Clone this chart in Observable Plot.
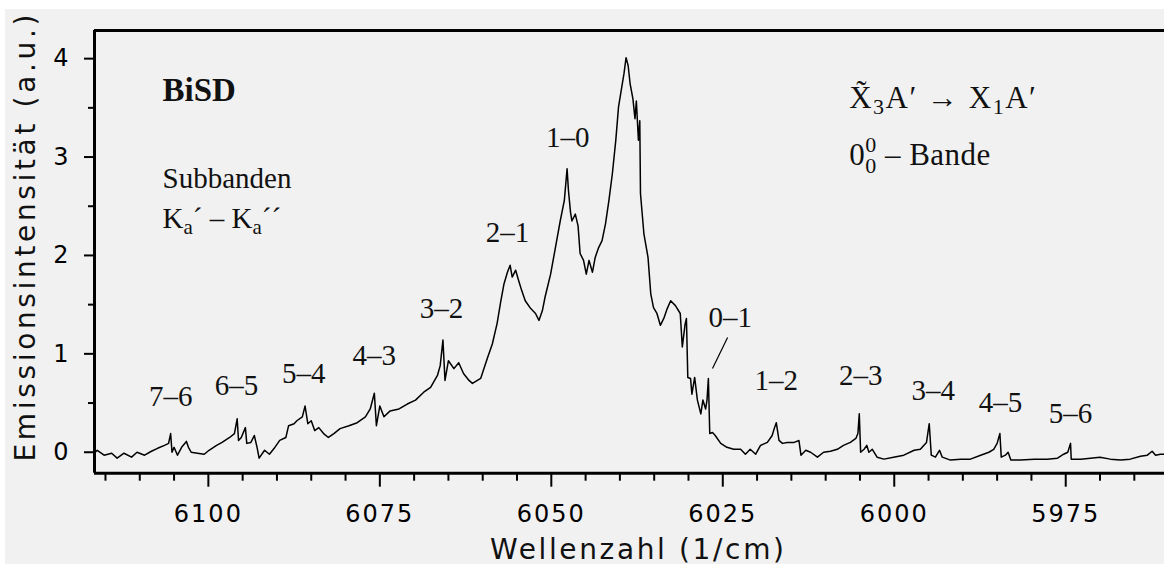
<!DOCTYPE html>
<html><head><meta charset="utf-8">
<script src="https://cdn.jsdelivr.net/npm/d3@7"></script>
<script src="https://cdn.jsdelivr.net/npm/@observablehq/plot@0.6"></script>
<style>
html,body{margin:0;padding:0;background:#fff;}
#chart{position:absolute;left:5px;top:9px;}
#chart svg .ax text{letter-spacing:2px;}
</style></head><body><div id="chart"></div>
<script>
// Spectrum: wavenumber (1/cm) and emission intensity (a.u.)
const wavenumber = [
6116.5,6116.2,6115.2,6114.1,6113.3,6112.3,6111.2,6110.4,6109.3,6108.3,6107.4,6106.4,6105.8,6105.5,6105.3,6105.0,6104.5,6103.9,6103.2,6102.9,
6102.5,6101.6,6100.6,6099.9,6098.8,6098.0,6096.9,6096.2,6095.8,6095.6,6095.2,6094.6,6094.4,6093.8,6093.3,6092.9,6092.6,6091.8,6091.1,6090.4,
6089.6,6088.7,6088.3,6087.5,6087.1,6086.3,6085.9,6085.5,6085.0,6084.5,6083.9,6083.2,6082.5,6081.7,6080.8,6079.5,6078.3,6077.1,6076.4,6075.8,
6075.5,6075.0,6074.4,6073.5,6072.2,6071.0,6069.8,6068.6,6067.6,6066.6,6066.2,6065.8,6065.5,6065.0,6064.2,6063.5,6062.8,6062.0,6061.5,6060.3,
6059.3,6058.6,6057.9,6057.4,6056.9,6056.4,6056.0,6055.7,6055.2,6054.7,6054.3,6053.8,6053.0,6052.3,6051.8,6051.3,6050.9,6050.1,6049.4,6048.7,
6048.1,6047.7,6047.5,6047.2,6047.0,6046.5,6046.1,6045.8,6045.3,6044.9,6044.5,6044.0,6043.6,6043.1,6042.6,6042.1,6041.6,6041.1,6040.6,6040.2,
6039.8,6039.4,6039.1,6038.8,6038.5,6038.1,6037.8,6037.6,6037.3,6037.1,6037.0,6036.5,6035.9,6035.5,6035.1,6034.6,6034.1,6033.6,6033.1,6032.6,
6031.9,6031.2,6030.9,6030.5,6030.3,6030.1,6029.7,6029.5,6029.1,6028.7,6028.2,6027.9,6027.5,6027.3,6027.1,6026.9,6026.5,6026.1,6025.3,6024.4,
6023.4,6022.4,6021.7,6021.0,6020.2,6019.5,6018.5,6017.8,6017.5,6017.2,6016.8,6016.3,6015.6,6014.6,6013.9,6013.6,6012.9,6012.2,6011.2,6010.3,
6009.3,6008.3,6007.4,6006.4,6005.6,6005.3,6005.1,6004.9,6004.4,6004.0,6003.7,6003.2,6002.5,6001.5,6000.1,5998.6,5997.1,5996.2,5995.3,5994.9,
5994.6,5994.0,5993.4,5993.0,5991.8,5990.3,5988.9,5987.4,5986.2,5985.5,5985.0,5984.6,5984.4,5983.8,5983.4,5983.0,5981.6,5979.6,5977.7,5976.2,
5975.3,5974.7,5974.3,5974.2,5972.8,5971.4,5970.0,5968.5,5967.0,5965.6,5964.1,5963.1,5962.4,5961.9,5961.2,5960.6
];
const intensity = [
0.00,0.02,-0.03,-0.01,-0.06,-0.01,-0.05,0.00,-0.03,0.01,0.04,0.07,0.09,0.19,0.00,0.05,-0.03,0.05,0.11,0.05,
0.00,-0.01,-0.02,0.02,0.07,0.10,0.15,0.19,0.34,0.12,0.15,0.25,0.09,0.10,0.17,0.05,-0.06,0.02,-0.02,0.04,
0.12,0.15,0.27,0.29,0.32,0.36,0.47,0.29,0.32,0.22,0.25,0.19,0.15,0.19,0.24,0.27,0.30,0.36,0.44,0.60,
0.27,0.47,0.36,0.42,0.44,0.49,0.53,0.61,0.66,0.78,0.88,1.14,0.73,0.93,0.85,0.91,0.80,0.73,0.70,0.75,
0.96,1.10,1.31,1.52,1.71,1.83,1.90,1.78,1.85,1.73,1.64,1.54,1.46,1.41,1.34,1.44,1.58,1.81,2.08,2.35,
2.56,2.88,2.66,2.44,2.35,2.42,2.30,2.02,1.95,1.81,1.95,1.83,1.98,2.08,2.15,2.32,2.56,2.83,3.17,3.51,
3.68,3.85,4.01,3.93,3.74,3.59,3.39,3.57,3.17,3.37,2.63,2.22,1.98,1.61,1.47,1.41,1.29,1.36,1.46,1.54,
1.49,1.41,1.07,1.30,1.36,0.76,0.75,0.59,0.76,0.53,0.39,0.53,0.44,0.53,0.75,0.19,0.20,0.17,0.09,0.05,
0.03,0.03,-0.02,0.03,-0.02,0.07,0.10,0.17,0.24,0.30,0.12,0.09,0.10,0.10,0.12,-0.03,0.02,0.00,-0.05,0.00,
0.01,0.03,0.07,0.10,0.14,0.19,0.39,0.00,0.03,0.07,0.00,0.03,-0.05,-0.07,-0.05,-0.03,0.02,0.03,0.10,0.29,
-0.03,-0.05,0.02,-0.05,-0.08,-0.07,-0.07,-0.03,0.00,0.03,0.09,0.19,-0.05,-0.03,0.00,-0.08,-0.08,-0.07,-0.07,-0.06,
-0.02,0.00,0.09,-0.07,-0.07,-0.06,-0.05,-0.07,-0.08,-0.07,-0.04,-0.03,0.01,-0.03,-0.02,-0.02
];

// Sub-band labels (Ka' - Ka'') and their anchor positions (data units)
const peakLabels = ["7–6","6–5","5–4","4–3","3–2","2–1","1–0","0–1","1–2","2–3","3–4","4–5","5–6"];
const peakLabelX = [6105.5,6095.9,6086.1,6075.8,6066.0,6056.4,6047.6,6023.9,6017.2,6004.9,5994.3,5984.5,5974.3];
const peakLabelY = [0.566,0.678,0.800,0.983,1.460,2.233,3.198,1.369,0.729,0.779,0.627,0.505,0.393];

// Axis ticks
const xTicks = [6100,6075,6050,6025,6000,5975];
const xMinorTicks = d3.range(6115,5964,-5).filter(v => v % 25 !== 0);
const yTicks = [0,1,2,3,4];
const yMinorTicks = [0.5,1.5,2.5,3.5];

const xDomain = [6116.6, 5960.6];
const yDomain = [-0.213, 4.286];

const data = wavenumber.map((w,i) => ({w, v: intensity[i]}));
const labels = peakLabels.map((t,i) => ({t, x: peakLabelX[i], y: peakLabelY[i]}));

const W = 1159, H = 555;
const plot = Plot.plot({
  width: W, height: H,
  marginLeft: 89, marginRight: 0, marginTop: 21, marginBottom: 91.3,
  x: {domain: xDomain},
  y: {domain: yDomain},
  style: {background: "#f1f1f1", color: "#000", fontFamily: "DejaVu Sans", overflow: "visible"},
  marks: [
    Plot.axisX(xTicks, {tickSize: 14, tickPadding: 18, strokeWidth: 2, label: null, fontSize: 24, tickFormat: d => String(d), className: "ax"}),
    Plot.axisX(xMinorTicks, {tickSize: 8, text: null, strokeWidth: 2, label: null}),
    Plot.axisY(yTicks, {tickSize: 10, tickPadding: 16, strokeWidth: 2, label: null, fontSize: 24, tickFormat: d => String(d)}),
    Plot.axisY(yMinorTicks, {tickSize: 6, text: null, strokeWidth: 2, label: null}),
    Plot.ruleY([yDomain[1]], {strokeWidth: 3}),
    Plot.ruleY([yDomain[0]], {strokeWidth: 3}),
    Plot.ruleX([xDomain[0]], {strokeWidth: 3}),
    Plot.line(data, {x: "w", y: "v", stroke: "#000", strokeWidth: 1.5}),
    Plot.text(labels, {x: "x", y: "y", text: "t", fontFamily: "Liberation Serif", fontSize: 29, fill: "#111"}),
    Plot.link([{x1: 6024.3, y1: 1.166, x2: 6026.5, y2: 0.851}], {x1: "x1", y1: "y1", x2: "x2", y2: "y2", stroke: "#000", strokeWidth: 1.2})
  ]
});
document.getElementById("chart").appendChild(plot);

const svg = d3.select(plot);
const sx = plot.scale("x"), sy = plot.scale("y");
const g = svg.append("g").attr("fill", "#111").attr("text-anchor", "start");

// Axis titles
g.append("text").attr("x", 632).attr("y", 550).attr("text-anchor", "middle")
  .attr("font-family", "DejaVu Sans").attr("font-size", 28)
  .attr("textLength", 294).attr("lengthAdjust", "spacing").text("Wellenzahl (1/cm)");
g.append("text").attr("transform", "translate(30,229) rotate(-90)").attr("text-anchor", "middle")
  .attr("font-family", "DejaVu Sans").attr("font-size", 28)
  .attr("textLength", 447).attr("lengthAdjust", "spacing").text("Emissionsintensität (a.u.)");

const serif = "Liberation Serif";
// BiSD
g.append("text").attr("x", sx.apply(6106.6)).attr("y", sy.apply(3.564))
  .attr("font-family", serif).attr("font-weight", "bold").attr("font-size", 33).text("BiSD");
g.append("text").attr("x", sx.apply(6106.6)).attr("y", sy.apply(2.680))
  .attr("font-family", serif).attr("font-size", 29).text("Subbanden");
const ka = g.append("text").attr("x", sx.apply(6106.6)).attr("y", sy.apply(2.273))
  .attr("font-family", serif).attr("font-size", 29);
ka.append("tspan").text("K");
ka.append("tspan").attr("font-size", 21).attr("dy", 6).text("a");
ka.append("tspan").attr("dy", -6).text("´ – K");
ka.append("tspan").attr("font-size", 21).attr("dy", 6).text("a");
ka.append("tspan").attr("dy", -6).text("´´");

// Transition
const tr = g.append("text").attr("x", sx.apply(6006.5)).attr("y", sy.apply(3.493))
  .attr("font-family", serif).attr("font-size", 31).attr("letter-spacing", 1.5);
tr.append("tspan").text("X\u0303");
tr.append("tspan").attr("font-size", 22).attr("dy", 6).text("3");
tr.append("tspan").attr("dy", -6).text("A\u2032 \u2192 X");
tr.append("tspan").attr("font-size", 22).attr("dy", 6).text("1");
tr.append("tspan").attr("dy", -6).text("A\u2032");

const bd = g.append("text").attr("x", sx.apply(6006.5)).attr("y", sy.apply(2.913))
  .attr("font-family", serif).attr("font-size", 31).attr("letter-spacing", 0.5);
bd.append("tspan").text("0");
bd.append("tspan").attr("font-size", 22).attr("dy", -13).text("0");
bd.append("tspan").attr("font-size", 22).attr("dx", -11.5).attr("dy", 21).text("0");
bd.append("tspan").attr("dy", -8).text(" – Bande");
</script></body></html>
